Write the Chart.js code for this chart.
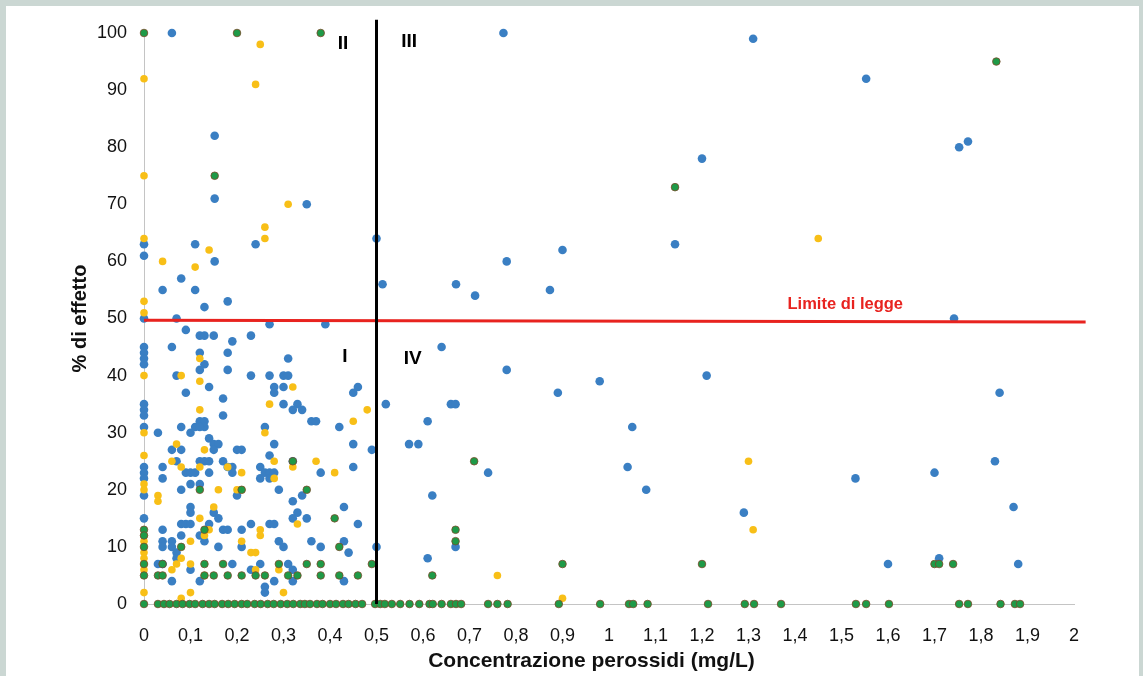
<!DOCTYPE html>
<html>
<head>
<meta charset="utf-8">
<script src="https://cdn.jsdelivr.net/npm/chart.js@4.4.1/dist/chart.umd.min.js"></script>
<style>
  html, body { margin: 0; padding: 0; background: #cbd7d3; }
  #wrap { position: absolute; left: 0; top: 0; width: 1143px; height: 676px; }
</style>
</head>
<body>
<div id="wrap"><canvas id="c" width="1143" height="676"></canvas></div>
<script>
// ---- data ----
const xTicks = [0,0.1,0.2,0.3,0.4,0.5,0.6,0.7,0.8,0.9,1,1.1,1.2,1.3,1.4,1.5,1.6,1.7,1.8,1.9,2];
const yTicks = [0,10,20,30,40,50,60,70,80,90,100];

const bluePoints = [
  [0.06,100],[0.152,82],[0.152,71],[0.35,70],[0.24,63],[0,63],[0.11,63],[0,61],[0.152,60],[0.08,57],
  [0.04,55],[0.11,55],[0.13,52],[0.18,53],[0,50],[0.07,50],[0.27,49],[0.39,49],[0.09,48],[0.5,64],[0.513,56],
  [0.773,100],[1.31,99],[1.20,78],[1.142,63],[0.90,62],[0.78,60],[0.671,56],[0.712,54],[0.873,55],
  [1.553,92],[1.772,81],[1.753,80],[1.742,50],
  [0.12,47],[0.13,47],[0.15,47],[0.23,47],[0.19,46],[0.06,45],[0,45],[0,44],[0,43],[0,42],[0.12,44],[0.18,44],
  [0.31,43],[0.13,42],[0.12,41],[0.18,41],
  [0.07,40],[0.23,40],[0.27,40],[0.30,40],[0.31,40],[0.14,38],[0.28,38],[0.30,38],[0.28,37],[0.45,37],[0.46,38],
  [0.09,37],[0.17,36],[0,35],[0,34],[0,33],[0.30,35],[0.33,35],[0.32,34],[0.34,34],
  [0.17,33],[0.36,32],[0.37,32],[0.42,31],[0.26,31],[0,31],[0.03,30],[0.08,31],[0.11,31],[0.12,32],[0.13,32],
  [0.13,31],[0.12,31],[0.10,30],[0.14,29],[0.15,28],[0.16,28],[0.28,28],[0.45,28],
  [0.06,27],[0.08,27],[0.15,27],[0.20,27],[0.21,27],[0.49,27],[0.27,26],[0.07,25],[0.12,25],[0.13,25],[0.14,25],
  [0.17,25],[0.32,25],
  [0,24],[0,23],[0,22],[0.04,24],[0.09,23],[0.10,23],[0.11,23],[0.14,23],[0.18,24],[0.19,24],[0.19,23],[0.25,24],
  [0.26,23],[0.27,23],[0.28,23],[0.25,22],[0.27,22],[0.38,23],[0.45,24],[0.04,22],
  [0,19],[0.08,20],[0.10,21],[0.12,21],[0.20,19],[0.29,20],[0.34,19],[0.32,18],[0.33,16],[0.10,17],[0.10,16],
  [0.15,16],[0.16,15],[0,15],[0.32,15],[0.35,15],[0.43,17],
  [0.04,13],[0.08,14],[0.09,14],[0.10,14],[0.14,14],[0.17,13],[0.18,13],[0.21,13],[0.23,14],[0.27,14],[0.28,14],[0.46,14],
  [0.12,12],[0.13,11],[0.08,12],[0.04,11],[0.04,10],[0.06,11],[0.06,10],[0.07,9],[0.21,10],[0.16,10],[0.29,11],
  [0.30,10],[0.36,11],[0.38,10],[0.43,11],[0.44,9],[0.50,10],
  [0.07,8],[0.03,7],[0.04,7],[0.19,7],[0.23,6],[0.25,7],[0.31,7],[0.32,6],[0.32,4],[0.43,4],[0.06,4],[0.10,6],
  [0.12,4],[0.28,4],[0.26,3],[0.26,2],
  [0.64,45],[0.78,41],[0.98,39],[0.89,37],[1.21,40],[0.52,35],[0.66,35],[0.67,35],[0.61,32],[1.05,31],[0.57,28],
  [0.59,28],[0.74,23],[1.04,24],[0.62,19],[1.08,20],[1.29,16],[0.67,10],[0.61,8],
  [1.84,37],[1.83,25],[1.70,23],[1.53,22],[1.87,17],[1.60,7],[1.71,8],[1.88,7]
];

const yellowPoints = [
  [0.25,98],[0,92],[0.24,91],[0,75],[0.31,70],[0.26,66],[0.26,64],[0,64],[0.14,62],[0.04,60],[0.11,59],[0,53],
  [0,51],[1.45,64],
  [0.12,43],[0,40],[0.08,40],[0.12,39],[0.32,38],[0.27,35],[0.48,34],[0.12,34],[0.45,32],[0,30],[0.26,30],
  [0.07,28],[0.13,27],[0,26],[0.06,25],[0.28,25],[0.37,25],[0.32,24],[0.08,24],[0.12,24],[0.18,24],[0.21,23],
  [0.41,23],[0.28,22],
  [0,21],[0,20],[0.03,19],[0.03,18],[0.16,20],[0.20,20],[0.21,20],[0.15,17],[0.12,15],[0.33,14],[0.13,12],
  [0.14,13],[0.25,13],[0.25,12],[0,12],[0,11],[0.10,11],[0.21,11],
  [0,9],[0,8],[0,7],[0,6],[0.23,9],[0.24,9],[0.08,8],[0.07,7],[0.06,6],[0.10,7],[0.24,6],[0.29,6],[0.13,5],
  [0,2],[0.08,1],[0.10,2],[0.30,2],
  [1.30,25],[1.31,13],[0.76,5],[0.90,1]
];

const greenPoints = [
  [0,100],[0.20,100],[0.38,100],[0.152,75],[1.142,73],[1.833,95],
  [0.32,25],[0.12,20],[0.21,20],[0.35,20],[0.41,15],[0,13],[0,12],[0.13,13],[0,10],[0.08,10],[0.42,10],
  [0,7],[0.04,7],[0.13,7],[0.17,7],[0.29,7],[0.35,7],[0.38,7],[0.49,7],
  [0,5],[0.03,5],[0.04,5],[0.13,5],[0.15,5],[0.18,5],[0.21,5],[0.24,5],[0.26,5],[0.31,5],[0.33,5],[0.38,5],
  [0.42,5],[0.46,5],
  [0.71,25],[0.67,13],[0.67,11],[0.62,5],[0.90,7],[1.20,7],[1.70,7],[1.71,7],[1.74,7],
  // points on the zero line
  [0,0],[0.03,0],[0.043,0],[0.055,0],[0.07,0],[0.083,0],[0.098,0],[0.11,0],[0.126,0],[0.14,0],[0.152,0],
  [0.168,0],[0.181,0],[0.195,0],[0.21,0],[0.222,0],[0.238,0],[0.251,0],[0.266,0],[0.279,0],[0.294,0],
  [0.308,0],[0.321,0],[0.336,0],[0.346,0],[0.357,0],[0.372,0],[0.384,0],[0.4,0],[0.413,0],[0.428,0],
  [0.44,0],[0.455,0],[0.469,0],[0.497,0],[0.508,0],[0.518,0],[0.533,0],[0.551,0],[0.571,0],[0.592,0],
  [0.614,0],[0.621,0],[0.64,0],[0.66,0],[0.671,0],[0.682,0],[0.74,0],[0.76,0],[0.782,0],[0.892,0],
  [0.981,0],[1.043,0],[1.052,0],[1.083,0],[1.213,0],[1.292,0],[1.312,0],[1.37,0],[1.531,0],[1.553,0],
  [1.602,0],[1.753,0],[1.772,0],[1.842,0],[1.873,0],[1.884,0]
];

const limitLine = [[0,49.7],[2.025,49.4]];
const dividerLine = [[0.5,0],[0.5,102.3]];
const quadrantLabels = [["II",0.428,98.2],["III",0.57,98.4],["I",0.432,43.3],["IV",0.578,42.9]];
const limitLabel = ["Limite di legge",1.508,52.4];

const toXY = arr => arr.map(p => ({x: p[0], y: p[1]}));
const FONT = "'Liberation Sans', Arial, sans-serif";

const bgPlugin = {
  id: 'bg',
  beforeDraw(chart) {
    const ctx = chart.ctx;
    ctx.save();
    ctx.fillStyle = '#cbd7d3';
    ctx.fillRect(0, 0, chart.width, chart.height);
    ctx.fillStyle = '#ffffff';
    ctx.fillRect(6, 6, 1133, chart.height - 6);
    ctx.restore();
  }
};

const textPlugin = {
  id: 'texts',
  afterDatasetsDraw(chart) {
    const ctx = chart.ctx, xs = chart.scales.x, ys = chart.scales.y;
    ctx.save();
    ctx.textAlign = 'center';
    ctx.textBaseline = 'middle';
    ctx.fillStyle = '#000';
    ctx.font = "bold 19px " + FONT;
    quadrantLabels.forEach(l => ctx.fillText(l[0], xs.getPixelForValue(l[1]), ys.getPixelForValue(l[2])));
    ctx.fillStyle = '#e8231f';
    ctx.font = "bold 16.5px " + FONT;
    ctx.fillText(limitLabel[0], xs.getPixelForValue(limitLabel[1]), ys.getPixelForValue(limitLabel[2]));
    ctx.restore();
  }
};

new Chart(document.getElementById('c'), {
  type: 'scatter',
  data: {
    datasets: [
      { type: 'line', data: toXY(dividerLine), borderColor: '#000', borderWidth: 3, pointRadius: 0, clip: false },
      { type: 'line', data: toXY(limitLine), borderColor: '#e8231f', borderWidth: 3, pointRadius: 0, clip: false },
      { data: toXY(greenPoints), backgroundColor: '#1e9a47', borderColor: '#7a4a2a', borderWidth: 0.8, pointRadius: 3.8, clip: false },
      { data: toXY(yellowPoints), backgroundColor: '#f8bf17', borderWidth: 0, pointRadius: 3.8, clip: false },
      { data: toXY(bluePoints), backgroundColor: '#3a7fc3', borderWidth: 0, pointRadius: 4.3, clip: false }
    ]
  },
  options: {
    responsive: false,
    animation: false,
    events: [],
    layout: { padding: { left: 6, top: 33, right: 69, bottom: 0 } },
    plugins: { legend: { display: false }, tooltip: { enabled: false } },
    scales: {
      x: {
        type: 'linear', min: 0, max: 2,
        afterBuildTicks: s => { s.ticks = xTicks.map(v => ({value: v})); },
        afterFit: s => { s.height = 72; },
        grid: { drawOnChartArea: false, drawTicks: false },
        border: { display: true, color: '#c4c4c4', width: 1 },
        ticks: { padding: 21, color: '#111', font: { family: FONT, size: 18 },
                 callback: v => String(Math.round(v * 10) / 10).replace('.', ','), maxRotation: 0, autoSkip: false },
        title: { display: true, text: 'Concentrazione perossidi (mg/L)      ', color: '#111',
                 font: { family: FONT, size: 21, weight: 'bold' }, padding: { top: 0, bottom: 2 } }
      },
      y: {
        type: 'linear', min: 0, max: 100,
        afterBuildTicks: s => { s.ticks = yTicks.map(v => ({value: v})); },
        afterFit: s => { s.width = 138; },
        grid: { drawOnChartArea: false, drawTicks: false },
        border: { display: true, color: '#c4c4c4', width: 1 },
        ticks: { padding: 17, color: '#111', font: { family: FONT, size: 18 }, autoSkip: false },
        title: { display: true, text: '% di effetto', color: '#111',
                 font: { family: FONT, size: 20, weight: 'bold' }, padding: { top: 62, bottom: 0 } }
      }
    }
  },
  plugins: [bgPlugin, textPlugin]
});
</script>
</body>
</html>
